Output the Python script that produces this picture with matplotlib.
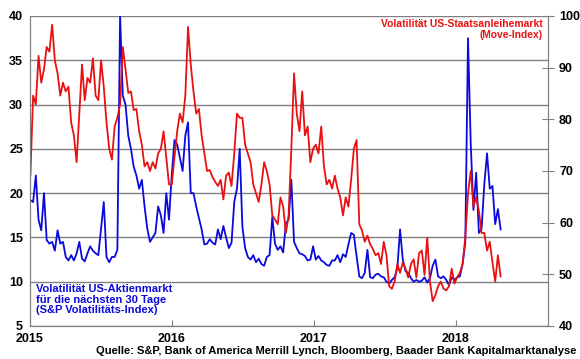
import matplotlib
matplotlib.use("Agg")
import matplotlib.pyplot as plt
import pandas as pd

# weekly readings, first Friday of 2015 onwards
vix = [19.2, 19, 22, 17, 15.8, 20, 14.7, 14.3, 14.5, 13.5,
       15.8, 14.3, 14.5, 12.8, 12.4, 13, 12.4, 13.2, 14.5, 12.6,
       12.3, 13.2, 14, 13.5, 13.2, 13, 16, 19, 12.8, 12.2,
       12.8, 12.8, 13.6, 40, 31, 30, 26.5, 25, 23, 22,
       20.5, 21.5, 18.5, 16, 14.5, 15, 15.5, 18.5, 17.5, 15.5,
       20, 17, 22, 26, 25.5, 24, 22.5, 26.5, 28, 20,
       20, 18.5, 17.2, 15.9, 14.2, 14.3, 14.8, 14.4, 14.2, 15.9,
       14.8, 16.3, 15, 13.8, 14.4, 19, 20.5, 25, 16.2, 13.8,
       12.8, 12.5, 13, 12.2, 12.6, 12, 11.8, 12.8, 13, 17.3,
       14.3, 13.6, 14, 13.3, 16.6, 17, 21.5, 14.5, 13.8, 13.2,
       13.1, 12.9, 12.4, 12.5, 14, 12.5, 12.9, 12.4, 12.2, 11.9,
       11.8, 12.4, 12.4, 13, 12.2, 13.1, 12.8, 14.2, 15.5, 15.3,
       12.9, 10.6, 10.4, 11, 13.6, 10.5, 10.4, 10.8, 10.9, 10.6,
       10.5, 10, 9.8, 10.2, 10.5, 11.5, 15.9, 12.5, 11.2, 11,
       10.4, 10, 10.2, 10, 10.1, 10.5, 9.9, 10.4, 11.8, 12.5,
       10.6, 10.4, 10.6, 10.2, 9.6, 10.5, 10.2, 10.5, 10.6, 12,
       14.4, 37.5, 25.6, 18.1, 22.3, 15.5, 16, 21, 24.5, 20.5,
       20.8, 16.5, 18.2, 15.9]

move = [69.1, 84.6, 82.9, 92.3, 87.1, 89.7, 94.0, 93.1, 98.3, 91.4,
        88.9, 84.6, 87.1, 85.4, 86.3, 79.4, 76.9, 71.7, 81.1, 90.6,
        83.7, 88.0, 87.1, 91.8, 84.6, 83.7, 91.4, 86.3, 79.4, 74.3,
        72.2, 78.6, 80.3, 82.9, 94.0, 89.7, 85.1, 85.4, 81.8, 82.0,
        77.7, 75.1, 70.9, 71.7, 70.0, 71.7, 70.5, 73.4, 74.3, 77.7,
        72.6, 67.4, 67.4, 72.6, 77.7, 81.1, 79.4, 84.6, 97.9, 90.6,
        85.4, 81.1, 82.0, 76.9, 73.4, 70.0, 70.2, 68.8, 67.9, 67.1,
        68.3, 64.5, 69.1, 69.7, 67.1, 73.4, 81.1, 80.3, 80.3, 75.1,
        73.4, 71.7, 67.4, 65.7, 64.0, 67.4, 71.7, 70.0, 67.4, 61.4,
        60.6, 59.7, 64.9, 63.1, 58.0, 61.4, 74.3, 88.9, 81.1, 77.7,
        85.4, 76.9, 78.6, 71.7, 74.3, 75.1, 73.4, 78.6, 70.9, 67.4,
        68.3, 66.6, 69.1, 66.6, 64.9, 61.4, 64.9, 63.1, 68.3, 74.3,
        76.0, 59.7, 58.5, 56.3, 57.5, 55.8, 54.9, 53.7, 54.1, 52.0,
        56.3, 53.7, 47.7, 47.2, 48.6, 52.0, 50.3, 52.3, 51.1, 49.4,
        52.0, 52.9, 49.4, 54.1, 54.6, 49.9, 57.1, 48.6, 44.8, 46.0,
        47.7, 48.6, 47.2, 46.9, 47.7, 51.1, 48.2, 49.4, 50.3, 52.0,
        57.1, 65.7, 70.0, 63.1, 64.9, 62.3, 58.0, 58.0, 54.6, 56.3,
        52.3, 48.6, 53.7, 49.6]

dates = pd.date_range("2015-01-02", periods=len(vix), freq="7D")
years = ["2015", "2016", "2017", "2018"]

blue = "#0a0adc"
red = "#e81010"
grey = "#808080"

plt.rcParams["font.family"] = ["Liberation Sans", "DejaVu Sans"]
plt.rcParams["font.weight"] = "bold"

fig = plt.figure(figsize=(5.8, 3.59), dpi=100)
ax = fig.add_axes([30 / 580, 33 / 359, 518 / 580, 310 / 359])

ax.plot(dates, vix, color=blue, linewidth=1.3)
ax.set_ylim(5, 40)
ax.set_yticks(range(5, 41, 5))
ax.set_xlim(pd.Timestamp("2015-01-01"), pd.Timestamp("2018-08-27"))
ax.set_xticks([pd.Timestamp(y + "-01-01") for y in years])
ax.set_xticklabels(years)
ax.grid(axis="y", color=grey, linewidth=1)
ax.tick_params(axis="y", length=0, labelsize=9, pad=5)
ax.tick_params(axis="x", direction="in", length=4, color=grey, labelsize=9, pad=5)
for s in ["left", "bottom", "right"]:
    ax.spines[s].set_color(grey)
ax.spines["top"].set_visible(False)

ax2 = ax.twinx()
ax2.plot(dates, move, color=red, linewidth=1.3)
ax2.set_ylim(40, 100)
ax2.set_yticks(range(40, 101, 10))
ax2.tick_params(axis="y", direction="inout", length=8, color=grey, labelsize=9, pad=4)
for s in ["left", "bottom", "right"]:
    ax2.spines[s].set_color(grey)
ax2.spines["top"].set_visible(False)

ax.text(0.012, 0.135, "Volatilität US-Aktienmarkt\nfür die nächsten 30 Tage\n(S&P Volatilitäts-Index)",
        transform=ax.transAxes, color=blue, fontsize=8, va="top", ha="left", linespacing=1.05)
ax.text(0.99, 0.99, "Volatilität US-Staatsanleihemarkt\n(Move-Index)",
        transform=ax.transAxes, color=red, fontsize=7.4, va="top", ha="right", linespacing=1.1)
fig.text(576 / 580, 3 / 359, "Quelle: S&P, Bank of America Merrill Lynch, Bloomberg, Baader Bank Kapitalmarktanalyse",
         ha="right", va="bottom", fontsize=8)

fig.savefig("out.png", dpi=100)
